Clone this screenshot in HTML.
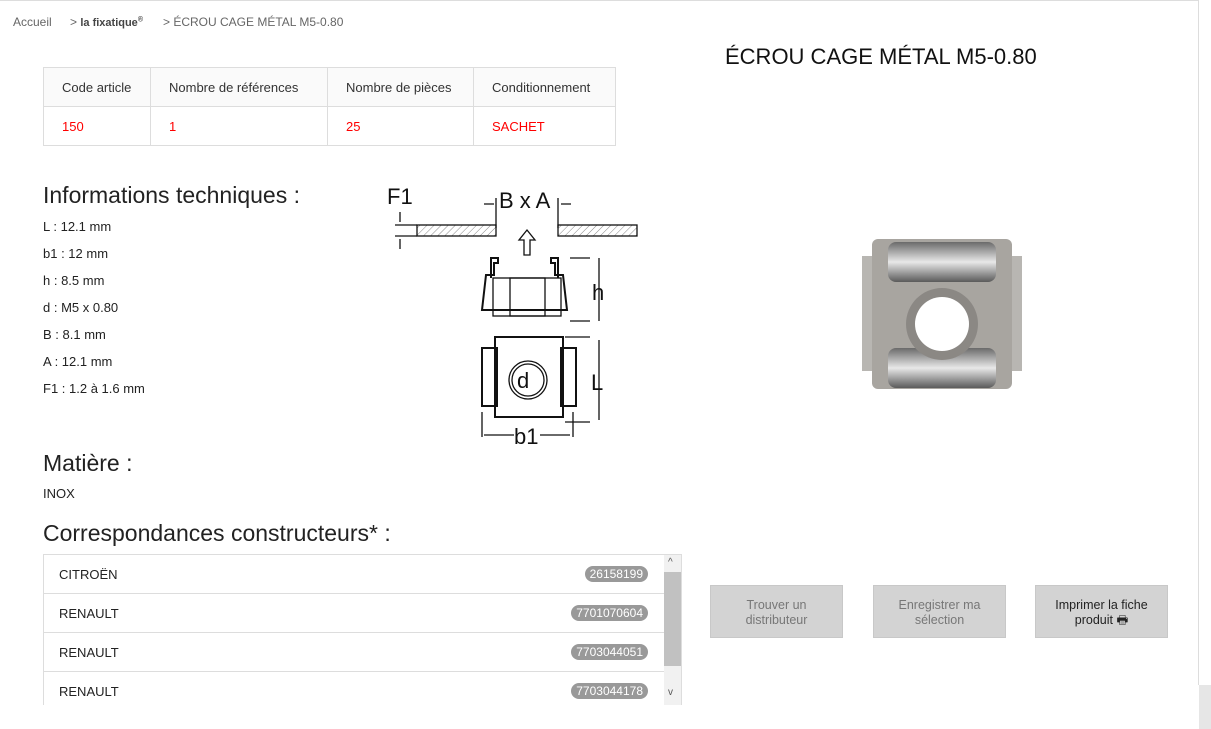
<!DOCTYPE html>
<html><head><meta charset="utf-8"><style>
body{margin:0;width:1211px;height:729px;background:#fff;font-family:"Liberation Sans",sans-serif;position:relative;overflow:hidden;color:#222}
.a{position:absolute;white-space:nowrap}
table{border-collapse:collapse;position:absolute;left:43px;top:67px;font-size:13px}
td{border:1px solid #ddd;height:39px;padding:0 0 0 18px;box-sizing:border-box}
.h td{background:#fafafa;color:#333}
.r td{color:#f00}
.spec{font-size:13px;color:#222}
.row{position:absolute;left:43px;width:620px;height:38px;border-bottom:1px solid #ddd;font-size:13px}
.row span{position:absolute;left:15px;top:12px}
.row b{position:absolute;right:16px;top:11px;background:#999;color:#fff;font-weight:normal;font-size:12px;border-radius:8px;padding:1px 5px}
.btn{position:absolute;top:585px;width:133px;height:53px;background:#d3d3d3;border:1px solid #c8c8c8;box-sizing:border-box;font-size:12.5px;text-align:center;line-height:15px;padding-top:12px;color:#777}
</style></head><body>
<div class="a" style="left:0;top:0;width:1198px;height:1px;background:#ddd"></div>
<div class="a" style="left:1198px;top:0;width:1px;height:685px;background:#ddd"></div>
<div class="a" style="left:1199px;top:685px;width:12px;height:44px;background:#e6e6e6"></div>
<div class="a" style="left:13px;top:15px;font-size:12px;color:#666">Accueil</div>
<div class="a" style="left:70px;top:15px;font-size:12px;color:#666">&gt; <b style="font-size:11px;color:#444">la fixatique<sup style="font-size:7px">®</sup></b></div>
<div class="a" style="left:163px;top:15px;font-size:12px;color:#666">&gt; ÉCROU CAGE MÉTAL M5-0.80</div>
<div class="a" style="left:725px;top:44px;font-size:22px;color:#111">ÉCROU CAGE MÉTAL M5-0.80</div>
<table>
<tr class="h"><td style="width:107px">Code article</td><td style="width:177px">Nombre de références</td><td style="width:146px">Nombre de pièces</td><td style="width:142px">Conditionnement</td></tr>
<tr class="r"><td>150</td><td>1</td><td>25</td><td>SACHET</td></tr>
</table>
<div class="a" style="left:43px;top:182px;font-size:23px">Informations techniques :</div>
<div class="a spec" style="left:43px;top:219px">L : 12.1 mm</div>
<div class="a spec" style="left:43px;top:246px">b1 : 12 mm</div>
<div class="a spec" style="left:43px;top:273px">h : 8.5 mm</div>
<div class="a spec" style="left:43px;top:300px">d : M5 x 0.80</div>
<div class="a spec" style="left:43px;top:327px">B : 8.1 mm</div>
<div class="a spec" style="left:43px;top:354px">A : 12.1 mm</div>
<div class="a spec" style="left:43px;top:381px">F1 : 1.2 à 1.6 mm</div>
<div class="a" style="left:43px;top:450px;font-size:23px">Matière :</div>
<div class="a spec" style="left:43px;top:486px">INOX</div>
<div class="a" style="left:43px;top:520px;font-size:23px">Correspondances constructeurs* :</div>
<svg class="a" style="left:380px;top:180px" width="270" height="270" viewBox="0 0 270 270" font-family="Liberation Sans" stroke="#111" fill="none" stroke-width="1.3">
<defs><pattern id="p" width="5" height="5" patternUnits="userSpaceOnUse" patternTransform="rotate(45)"><line x1="0" y1="0" x2="0" y2="5" stroke="#888" stroke-width="1"/></pattern></defs>
<text x="7" y="24" font-size="22" fill="#111" stroke="none">F1</text>
<text x="119" y="28" font-size="22" fill="#111" stroke="none">B x A</text>
<path d="M104 24h10M191 24h-10M116 18v30M178 18v30"/>
<rect x="37" y="45" width="79" height="11" fill="url(#p)"/>
<rect x="178" y="45" width="79" height="11" fill="url(#p)"/>
<path d="M20 32v10M20 59v10M15 45h22M15 56h22"/>
<path d="M144 75v-15h-5l8-10 8 10h-5v15z"/>
<path d="M111 98v-20h7v5h-4v12h-8l-4 35h85l-4-35h-8v-12h-4v-5h7v20" stroke-width="2"/>
<rect x="113" y="98" width="68" height="38"/><rect x="130" y="98" width="35" height="38"/>
<path d="M190 78h20M190 141h20M219 78v63"/>
<text x="212" y="120" font-size="22" fill="#111" stroke="none">h</text>
<rect x="115" y="157" width="68" height="80" stroke-width="2"/><rect x="102" y="168" width="15" height="58" stroke-width="2"/><rect x="181" y="168" width="15" height="58" stroke-width="2"/>
<circle cx="148" cy="200" r="19"/><circle cx="148" cy="200" r="16"/>
<text x="137" y="208" font-size="22" fill="#111" stroke="none">d</text>
<path d="M185 157h25M185 242h25M219 160v80M102 232v25M193 232v25M104 255h30M190 255h-30"/>
<text x="211" y="210" font-size="22" fill="#111" stroke="none">L</text>
<text x="134" y="264" font-size="22" fill="#111" stroke="none">b1</text>
</svg>
<svg class="a" style="left:862px;top:236px" width="160" height="155" viewBox="0 0 160 155">
<defs><linearGradient id="g" x1="0" y1="0" x2="0" y2="1"><stop offset="0" stop-color="#6a6a6a"/><stop offset=".5" stop-color="#e8e8e8"/><stop offset="1" stop-color="#5a5a5a"/></linearGradient></defs>
<rect x="0" y="20" width="16" height="115" fill="#b8b6b2"/><rect x="144" y="20" width="16" height="115" fill="#b8b6b2"/>
<rect x="10" y="3" width="140" height="150" rx="6" fill="#a8a5a0"/>
<rect x="26" y="6" width="108" height="40" rx="8" fill="url(#g)"/>
<rect x="26" y="112" width="108" height="40" rx="8" fill="url(#g)"/>
<circle cx="80" cy="88" r="36" fill="#8b8884"/><circle cx="80" cy="88" r="27" fill="#fff"/>
</svg>
<div class="a" style="left:43px;top:554px;width:637px;height:150px;border:1px solid #ddd;border-bottom:none;overflow:hidden">
<div class="row" style="left:0;top:0"><span>CITROËN</span><b>26158199</b></div>
<div class="row" style="left:0;top:39px"><span>RENAULT</span><b>7701070604</b></div>
<div class="row" style="left:0;top:78px"><span>RENAULT</span><b>7703044051</b></div>
<div class="row" style="left:0;top:117px;border:none"><span>RENAULT</span><b>7703044178</b></div>
<div class="a" style="left:620px;top:0;width:17px;height:150px;background:#f1f1f1"></div>
<div class="a" style="left:620px;top:17px;width:17px;height:94px;background:#c1c1c1"></div>
<div class="a" style="left:624px;top:2px;font-size:10px;color:#555">^</div>
<div class="a" style="left:624px;top:132px;font-size:10px;color:#555">v</div>
</div>
<div class="btn" style="left:710px">Trouver un<br>distributeur</div>
<div class="btn" style="left:873px">Enregistrer ma<br>sélection</div>
<div class="btn" style="left:1035px;color:#222">Imprimer la fiche<br>produit 🖶</div>
</body></html>
